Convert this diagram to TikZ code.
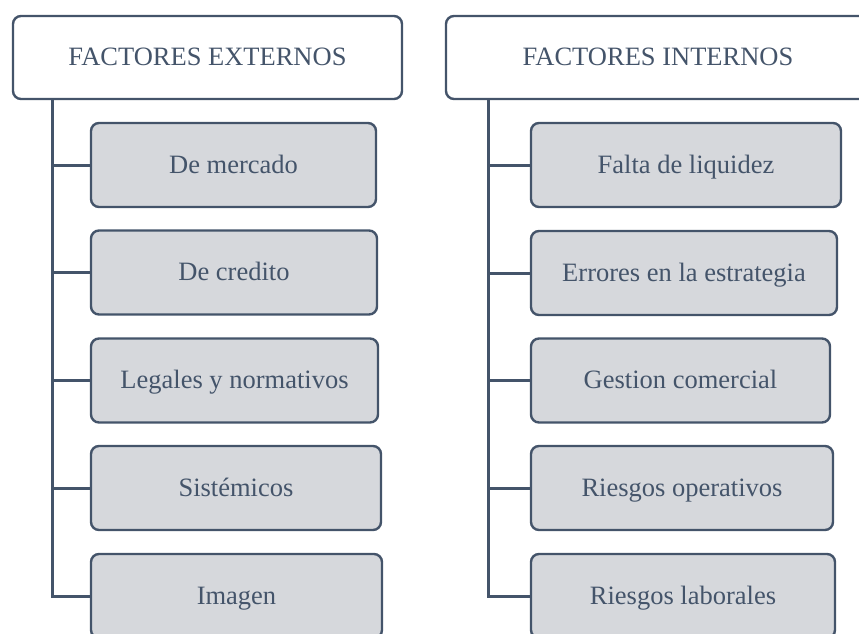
\documentclass[tikz,border=0pt]{standalone}
\usepackage{fontspec}
\setmainfont{Liberation Serif}
\definecolor{ink}{HTML}{44546A}
\definecolor{boxfill}{HTML}{D6D8DC}
\begin{document}
\begin{tikzpicture}[x=1pt,y=-1pt,
  txt/.style={text=ink,font=\fontsize{26.5}{30}\selectfont,inner sep=0pt,
    text height=20pt,text depth=4pt},
  hdr/.style={txt,draw=ink,line width=2.4pt,rounded corners=8pt,fill=white,
    minimum height=83pt},
  item/.style={txt,draw=ink,line width=2.4pt,rounded corners=8pt,fill=boxfill,
    minimum height=84pt},
  link/.style={draw=ink,line width=3pt}]
\useasboundingbox (0,0) rectangle (859,634);
\clip (0,0) rectangle (859,634);
% left column
\node[hdr,minimum width=389pt] (hL) at (207.5,57.5) {FACTORES EXTERNOS};
\node[item,minimum width=285pt] (l1) at (233.5,165) {De mercado};
\node[item,minimum width=286pt] (l2) at (234,272.5) {De credito};
\node[item,minimum width=287pt] (l3) at (234.5,380.5) {Legales y normativos};
\node[item,minimum width=290pt] (l4) at (236,488) {Sistémicos};
\node[item,minimum width=291pt] (l5) at (236.5,596) {Imagen};
\coordinate (tL) at (52,0);
\draw[link] (tL |- hL.south) -- (tL |- l5.west) -- (l5.west);
\foreach \n in {l1,l2,l3,l4}{\draw[link] (tL |- \n.west) -- (\n.west);}
% right column
\node[hdr,minimum width=424pt] (hR) at (658,57.5) {FACTORES INTERNOS};
\node[item,minimum width=310pt] (r1) at (686,165) {Falta de liquidez};
\node[item,minimum width=306pt] (r2) at (684,273) {Errores en la estrategia};
\node[item,minimum width=299pt] (r3) at (680.5,380.5) {Gestion comercial};
\node[item,minimum width=302pt] (r4) at (682,488) {Riesgos operativos};
\node[item,minimum width=304pt] (r5) at (683,596) {Riesgos laborales};
\coordinate (tR) at (488.5,0);
\draw[link] (tR |- hR.south) -- (tR |- r5.west) -- (r5.west);
\foreach \n in {r1,r2,r3,r4}{\draw[link] (tR |- \n.west) -- (\n.west);}
\end{tikzpicture}
\end{document}
